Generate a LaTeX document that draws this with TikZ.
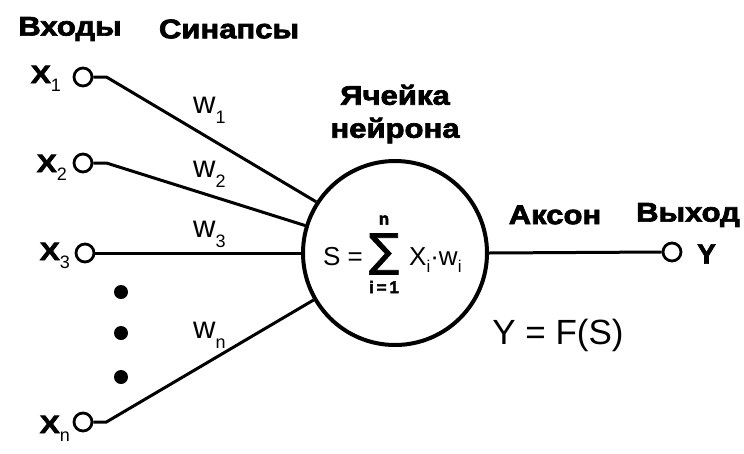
\documentclass[tikz,border=0pt]{standalone}
\usepackage{fontspec}
\usepackage{graphicx}
\setmainfont{Liberation Sans}
\newfontfamily\heavy{Liberation Sans Bold}[FakeBold=2.5]
\newfontfamily\symfont{DejaVu Sans}[FakeBold=1.5]
\usetikzlibrary{positioning}

\newcommand{\wide}[1]{\scalebox{1.15}[1]{#1}}
\newcommand{\xlab}[1]{\scalebox{1.2}[1]{X}\raisebox{-8pt}{\normalfont\fontsize{18}{18}\selectfont #1}}
\newcommand{\wlab}[1]{w\raisebox{-10pt}{\fontsize{18}{18}\selectfont #1}}
\newcommand{\idx}{\raisebox{-7pt}{\fontsize{17}{17}\selectfont i}}

\tikzset{
  head/.style={font=\fontsize{27}{33}\selectfont\heavy, inner sep=0pt},
  xin/.style={font=\fontsize{25}{25}\selectfont\heavy, inner sep=0pt, anchor=base east},
  term/.style={circle, draw, line width=2.8pt, minimum size=18pt, inner sep=0pt},
  neuron/.style={circle, draw, line width=4pt, minimum size=184pt, inner sep=0pt},
  weight/.style={font=\fontsize{31}{31}\selectfont, inner sep=0pt, anchor=base west},
  limit/.style={font=\fontsize{17}{17}\selectfont\heavy, inner sep=0pt},
  wire/.style={line width=3pt},
}

\begin{document}
\begin{tikzpicture}[x=1pt,y=-1pt]
\useasboundingbox (0,0) rectangle (744,453);
% cell and terminals
\node[neuron] (cell) at (395,253) {};
\node[term] (in1) at (83,77) {};
\node[term] (in2) at (83,163) {};
\node[term] (in3) at (85,253) {};
\node[term] (inn) at (83,422) {};
\node[term] (out) at (672,252) {};

% synapses and axon
\draw[wire] (in1.east) -- ++(13,0) -- (cell.147);
\draw[wire] (in2.east) -- ++(13,0) -- (cell.163);
\draw[wire] (in3.east) -- (cell.west);
\draw[wire] (inn.east) -- ++(13,0) -- (cell.210);
\draw[wire] (cell.east) -- (out.west);

% dots
\fill (121,292) circle (7);
\fill (121,333) circle (7);
\fill (121,377) circle (7);

% headers
\node[head] (hin) at (70,29) {\wide{Входы}};
\node[head] (hsyn) at (229,29) {\wide{Синапсы}};
\node[head, align=center] (hcell) at (395,114) {\wide{Ячейка}\\\wide{нейрона}};
\node[head] (hax) at (555,215) {\wide{Аксон}};
\node[head] (hout) at (688,215) {\wide{Выход}};

% inputs
\node[xin] (x1) at (61,83) {\xlab{1}};
\node[xin] (x2) at (67,172) {\xlab{2}};
\node[xin] (x3) at (70,260) {\xlab{3}};
\node[xin] (xn) at (70,433) {\xlab{n}};

% weights
\node[weight] (w1) at (193,113) {\wlab{1}};
\node[weight] (w2) at (193,177) {\wlab{2}};
\node[weight] (w3) at (193,237) {\wlab{3}};
\node[weight] (wn) at (193,338) {\wlab{n}};

% output
\node[anchor=west, font=\fontsize{28}{28}\selectfont\heavy, inner sep=0pt] (y) at (697,254) {Y};
\node[font=\fontsize{35}{35}\selectfont, inner sep=0pt] (fs) at (558,335) {Y = F(S)};

% sum
\node[font=\fontsize{26}{26}\selectfont, inner sep=0pt, anchor=base east] (slhs) at (363,265) {S =};
\node[font=\fontsize{45}{45}\selectfont\symfont, inner sep=0pt] (sigma) at (384,254) {∑};
\node[limit] (top) at (384,220) {n};
\node[limit] (bot) at (384,287) {i\,=\,1};
\node[font=\fontsize{26}{26}\selectfont, inner sep=0pt, anchor=base west] (srhs) at (409,265) {X\idx·w\idx};
\end{tikzpicture}
\end{document}
